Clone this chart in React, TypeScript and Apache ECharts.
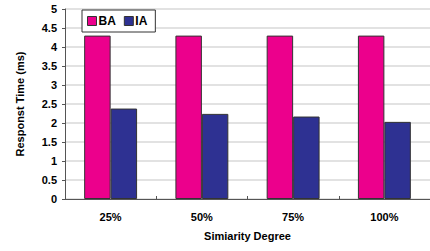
import React, { useEffect, useRef } from "react";
import * as echarts from "echarts";

const categories = ["25%", "50%", "75%", "100%"];
const baValues = [4.3, 4.3, 4.3, 4.3];
const iaValues = [2.38, 2.24, 2.17, 2.03];
const yTicks = { min: 0, max: 5, interval: 0.5 };

export default function App() {
  const ref = useRef<HTMLDivElement>(null);
  useEffect(() => {
    const chart = echarts.init(ref.current!, null, { renderer: "svg" });
    const font = "Liberation Sans, Arial, sans-serif";
    chart.setOption({
      animation: false,
      textStyle: { fontFamily: font },
      grid: { left: 65, right: -6, top: 9, bottom: 52 },
      legend: {
        left: 82,
        top: 10,
        orient: "horizontal",
        itemWidth: 9,
        itemHeight: 9,
        itemGap: 8,
        padding: [5, 8, 5, 5],
        borderColor: "#333",
        borderWidth: 1,
        backgroundColor: "#fff",
        icon: "rect",
        textStyle: { fontFamily: font, fontWeight: "bold", fontSize: 12, color: "#000", padding: [0, 0, 0, -3] },
        data: [
          { name: "BA", itemStyle: { borderColor: "#333", borderWidth: 1 } },
          { name: "IA", itemStyle: { borderColor: "#333", borderWidth: 1 } },
        ],
      },
      xAxis: {
        type: "category",
        data: categories,
        name: "Simiarity Degree",
        nameLocation: "middle",
        nameGap: 31,
        nameTextStyle: { fontFamily: font, fontWeight: "bold", fontSize: 11, color: "#000" },
        axisLine: { lineStyle: { color: "#555", width: 1 } },
        axisTick: { show: true, length: 3, inside: true, lineStyle: { color: "#555" } },
        axisLabel: { fontFamily: font, fontWeight: "bold", fontSize: 11, color: "#000", margin: 12 },
      },
      yAxis: {
        type: "value",
        min: yTicks.min,
        max: yTicks.max,
        interval: yTicks.interval,
        name: "Responst Time (ms)",
        nameLocation: "middle",
        nameGap: 40,
        nameTextStyle: { fontFamily: font, fontWeight: "bold", fontSize: 11, color: "#000" },
        axisLine: { show: true, lineStyle: { color: "#555", width: 1 } },
        axisTick: { show: true, length: 3, lineStyle: { color: "#555" } },
        axisLabel: { fontFamily: font, fontWeight: "bold", fontSize: 11, color: "#000", margin: 8 },
        splitLine: { show: true, lineStyle: { color: "#d9d9d9", width: 1.5 } },
      },
      series: [
        {
          name: "BA",
          type: "bar",
          data: baValues,
          barGap: "0%",
          barCategoryGap: "42%",
          itemStyle: { color: "#EC008C", borderColor: "#333", borderWidth: 1 },
        },
        {
          name: "IA",
          type: "bar",
          data: iaValues,
          itemStyle: { color: "#2E3192", borderColor: "#333", borderWidth: 1 },
        },
      ],
    });
    return () => chart.dispose();
  }, []);
  return (
    <div
      ref={ref}
      style={{ position: "fixed", left: 0, top: 0, width: 430, height: 251, background: "#fff" }}
    />
  );
}
